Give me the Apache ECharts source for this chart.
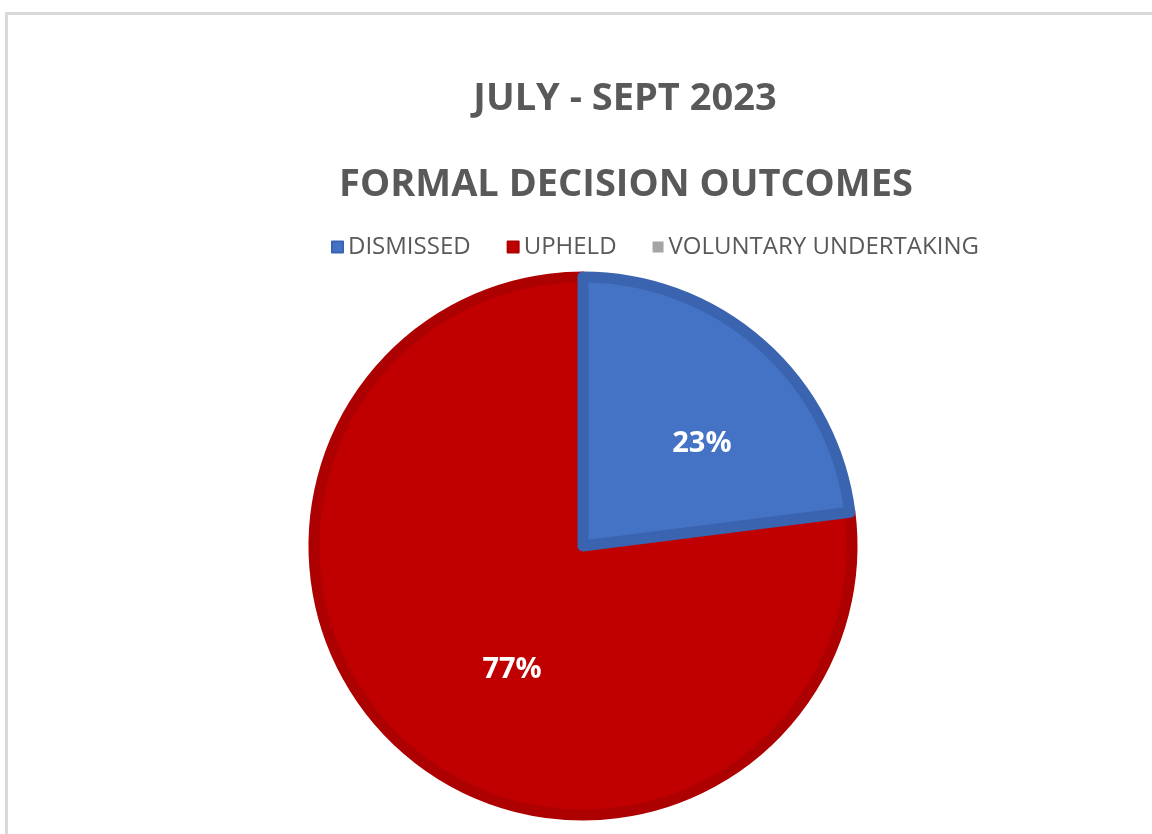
<!DOCTYPE html>
<html>
<head>
<meta charset="utf-8">
<title>Formal decision outcomes</title>
<script src="https://cdn.jsdelivr.net/npm/echarts@6/dist/echarts.min.js"></script>
<style>
  html, body { margin: 0; padding: 0; background: #fff; overflow: hidden; }
  .frame {
    position: absolute; left: 5px; top: 12px;
    width: 1300px; height: 1000px;
    border: 3px solid #d9d9d9;
  }
  #main { position: absolute; left: 0; top: 0; width: 1152px; height: 834px; }
</style>
</head>
<body>
<div class="frame"></div>
<div id="main"></div>
<script>
// 数据
var titleLines = ["JULY - SEPT 2023", "FORMAL DECISION OUTCOMES"];
var categories = ["DISMISSED", "UPHELD", "VOLUNTARY UNDERTAKING"];
var values = [23, 77, 0];
var colors = ["#4472c4", "#c00000", "#a5a5a5"];
var borderColors = ["#3a64b0", "#ad0000", "#a5a5a5"];

var chart = echarts.init(document.getElementById("main"));

var total = values.reduce(function (a, b) { return a + b; }, 0);
// 蓝色扇区最后绘制，盖在红色边框上
var drawOrder = [1, 2, 0];
var labelOffsets = { 0: [28, 1], 1: [20, 21], 2: [0, 0] };

var pieData = drawOrder.map(function (i) {
  return {
    name: categories[i],
    value: values[i],
    itemStyle: {
      color: colors[i],
      borderColor: borderColors[i],
      borderWidth: values[i] === 0 ? 0 : 11
    },
    label: { show: values[i] !== 0, offset: labelOffsets[i] }
  };
});

var titleStyle = { fontFamily: "Open Sans", fontWeight: "bold", fontSize: 38, color: "#595959" };

var option = {
  animation: false,
  title: [
    { text: titleLines[0], left: 620, top: 75, textAlign: "center", textStyle: titleStyle },
    { text: titleLines[1], left: 621, top: 161, textAlign: "center", textStyle: titleStyle }
  ],
  legend: {
    data: categories,
    left: 326, top: 230,
    icon: "rect", itemWidth: 11, itemHeight: 11, itemGap: 36,
    textStyle: { fontFamily: "Open Sans", fontSize: 24, color: "#595959" }
  },
  series: [
    {
      type: "pie",
      center: [583, 546],
      radius: 269,
      startAngle: 90 - 360 * values[0] / total,
      clockwise: true,
      legendHoverLink: false,
      emphasis: { disabled: true },
      label: {
        position: "inner",
        formatter: function (p) { return Math.round(p.value / total * 100) + "%"; },
        color: "#fff",
        fontFamily: "Open Sans",
        fontWeight: "bold",
        fontSize: 29
      },
      labelLine: { show: false },
      data: pieData
    }
  ]
};

chart.setOption(option);
</script>
</body>
</html>
